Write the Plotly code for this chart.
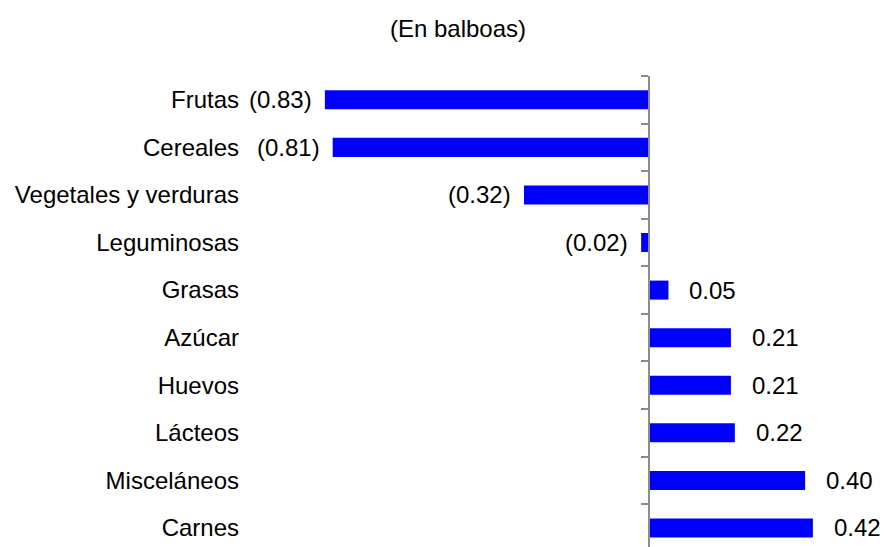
import plotly.graph_objects as go

categories = ["Frutas", "Cereales", "Vegetales y verduras", "Leguminosas", "Grasas",
              "Azúcar", "Huevos", "Lácteos", "Misceláneos", "Carnes"]
values = [-0.83, -0.81, -0.32, -0.02, 0.05, 0.21, 0.21, 0.22, 0.40, 0.42]
labels = [f"({abs(v):.2f})" if v < 0 else f"{v:.2f}" for v in values]

FONT = "Liberation Sans, Arial, sans-serif"
FS = 24
W, H = 885, 547
ML, MR, MT, MB = 245, 10, 76, 0
xmin, xmax = -1.0346, 0.579
zero_pos = (0 - xmin) / (xmax - xmin)

fig = go.Figure()
fig.add_trace(go.Bar(
    x=values, y=categories, orientation="h", width=0.4,
    marker=dict(color="#0000FF", line=dict(width=0)),
    hoverinfo="x+y", yaxis="y",
))
# invisible trace to carry categories for the zero-axis
fig.add_trace(go.Scatter(
    x=[0] * len(categories), y=categories, mode="markers",
    marker=dict(opacity=0), showlegend=False, hoverinfo="skip", yaxis="y2",
))

for c, v, t in zip(categories, values, labels):
    fig.add_annotation(
        x=v, y=c, text=t, showarrow=False,
        xanchor="left" if v >= 0 else "right",
        xshift=20 if v >= 0 else -12,
        borderpad=0,
        font=dict(family=FONT, size=FS, color="#000000"),
    )

fig.update_layout(
    width=W, height=H,
    margin=dict(l=ML, r=MR, t=MT, b=MB, autoexpand=False),
    paper_bgcolor="white", plot_bgcolor="white",
    showlegend=False,
    font=dict(family=FONT, size=FS, color="#000000"),
    title=dict(text="(En balboas)", x=458 / W, xanchor="center", xref="container",
               y=1 - 29 / H, yanchor="middle", yref="container",
               font=dict(family=FONT, size=FS, color="#000000")),
    xaxis=dict(range=[xmin, xmax], visible=False, showgrid=False, zeroline=False,
               automargin=False),
    yaxis=dict(type="category", categoryorder="array", categoryarray=categories,
               range=[9.4, -0.5], showgrid=False, zeroline=False, showline=False,
               ticks="", showticklabels=True, ticklabelstandoff=5, automargin=False,
               tickfont=dict(family=FONT, size=FS, color="#000000")),
    yaxis2=dict(type="category", categoryorder="array", categoryarray=categories,
                overlaying="y", matches="y", anchor="free", position=zero_pos, side="left",
                showgrid=False, zeroline=False, showline=True, linecolor="#8C8C8C", linewidth=1.5,
                ticks="outside", ticklen=7, tickcolor="#8C8C8C", tickwidth=1.5,
                tickson="boundaries", showticklabels=False, automargin=False),
)

# remove the browser's default page margin so the figure fills the window exactly
fig.write_html("out.html",
               config={"displayModeBar": False},
               post_script="document.body.style.margin='0';document.body.style.overflow='hidden';")
